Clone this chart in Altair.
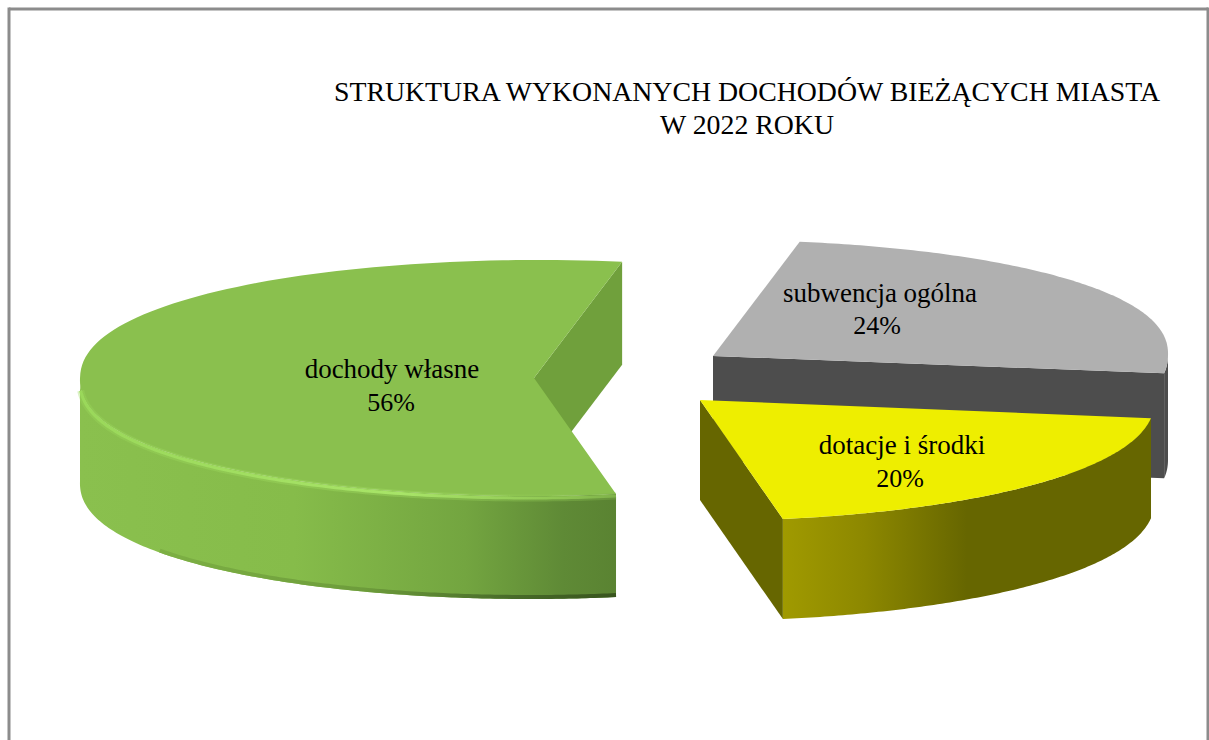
import math
import altair as alt
import pandas as pd

# Budget structure: share of current income by source
categories = ["dochody własne", "subwencja ogólna", "dotacje i środki"]
shares = [56, 24, 20]
title_lines = "STRUKTURA WYKONANYCH DOCHODÓW BIEŻĄCYCH MIASTA\nW 2022 ROKU"

W, H = 1209, 740
SKEW = 0.033   # slight shear of the tilted disc
ROUND = 0.9    # below 1 the disc outline bulges a little past a true ellipse

# Each exploded slice: hub position, ellipse radii, wall height and start angle
slices = {
    "dochody własne": dict(cx=534, cy=378, a=454, b=118, depth=103, start=79.3),
    "subwencja ogólna": dict(cx=713, cy=356, a=455, b=116, depth=105, start=79.5),
    "dotacje i środki": dict(cx=700, cy=400, a=455, b=121, depth=100, start=-7.0),
}
share_of = dict(zip(categories, shares))


def rim(s, deg, drop=0.0):
    t = math.radians(deg)
    sin_t = math.copysign(abs(math.sin(t)) ** ROUND, math.sin(t))
    return (
        s["cx"] + s["a"] * math.cos(t) + SKEW * s["b"] * sin_t,
        s["cy"] - s["b"] * sin_t + drop,
    )


def sweep(name):
    return 3.6 * share_of[name]


def arc_points(s, t0, t1, drop=0.0, steps=120):
    return [rim(s, t0 + (t1 - t0) * i / steps, drop) for i in range(steps + 1)]


xs = alt.Scale(domain=[0, W])
ys = alt.Scale(domain=[H, 0])


def shape(points, fill):
    df = pd.DataFrame(points, columns=["x", "y"]).assign(i=lambda d: range(len(d)))
    return alt.Chart(df).mark_line(fill=fill, strokeWidth=0, strokeOpacity=0, interpolate="linear-closed").encode(
        x=alt.X("x:Q", scale=xs, axis=None),
        y=alt.Y("y:Q", scale=ys, axis=None),
        order="i:Q",
    )


def stroke_path(points, stroke, width, opacity=1.0):
    df = pd.DataFrame(points, columns=["x", "y"]).assign(i=lambda d: range(len(d)))
    return alt.Chart(df).mark_line(stroke=stroke, strokeWidth=width, strokeCap="butt", strokeOpacity=opacity).encode(
        x=alt.X("x:Q", scale=xs, axis=None),
        y=alt.Y("y:Q", scale=ys, axis=None),
        order="i:Q",
    )


def hgrad(stops):
    return alt.LinearGradient(
        gradient="linear", x1=0, x2=1, y1=0, y2=0,
        stops=[alt.GradientStop(offset=o, color=c) for o, c in stops],
    )


def cut_face(s, deg, fill):
    hub = (s["cx"], s["cy"])
    p = rim(s, deg)
    d = s["depth"]
    return shape([hub, p, (p[0], p[1] + d), (hub[0], hub[1] + d)], fill)


layers = []

# --- grey slice (furthest back) ---
n = "subwencja ogólna"
s = slices[n]
g0, g1 = s["start"], s["start"] - sweep(n)
layers.append(cut_face(s, g1, "#4d4d4d"))
layers.append(shape(arc_points(s, 0, g1) + arc_points(s, g1, 0, s["depth"]), "#4d4d4d"))
layers.append(shape([(s["cx"], s["cy"])] + arc_points(s, g0, g1), "#b0b0b0"))

# --- green slice ---
n = "dochody własne"
s = slices[n]
g0, g1 = s["start"], s["start"] + sweep(n)
layers.append(cut_face(s, g0, "#70a03c"))
layers.append(shape(
    arc_points(s, 180, g1) + arc_points(s, g1, 180, s["depth"]),
    hgrad([(0, "#8ac04e"), (0.4, "#86bc4a"), (0.72, "#73a540"), (0.9, "#5f8a36"), (1, "#5a8332")]),
))
layers.append(stroke_path(
    arc_points(s, 215, g1, s["depth"] - 2),
    hgrad([(0, "#7db044"), (0.45, "#6d9c3b"), (0.75, "#4a6e2a"), (1, "#38541e")]),
    4,
))
layers.append(shape([(s["cx"], s["cy"])] + arc_points(s, g0, g1), "#8ac04e"))
layers.append(stroke_path(
    arc_points(s, 184, g1, 2),
    hgrad([(0, "#9ad85a"), (0.6, "#a4e064"), (0.9, "#8fc653"), (1, "#7fb24a")]),
    7, 0.35,
))
layers.append(stroke_path(
    arc_points(s, 184, g1, 2),
    hgrad([(0, "#9ad85a"), (0.6, "#a8e468"), (0.9, "#8fc653"), (1, "#7fb24a")]),
    3,
))

# --- yellow slice ---
n = "dotacje i środki"
s = slices[n]
g0, g1 = s["start"], s["start"] - sweep(n)
layers.append(cut_face(s, g1, "#666600"))
layers.append(shape(
    arc_points(s, g1, g0) + arc_points(s, g0, g1, s["depth"]),
    hgrad([(0, "#a09a00"), (0.22, "#8d8800"), (0.5, "#666600"), (1, "#666600")]),
))
layers.append(shape([(s["cx"], s["cy"])] + arc_points(s, g0, g1), "#eeee00"))

# --- frame ---
frame_color = "#8c8c8c"
frame = pd.DataFrame({"x": [9, 9, 1208], "x2": [9, 1208, 1208], "y": [7.5, 9, 7.5], "y2": [740, 9, 740]})
layers.append(alt.Chart(frame).mark_rule(color=frame_color, strokeWidth=3).encode(
    x=alt.X("x:Q", scale=xs, axis=None), x2="x2:Q",
    y=alt.Y("y:Q", scale=ys, axis=None), y2="y2:Q",
))

# --- labels: category name with its percentage underneath ---
name_anchor = {
    "dochody własne": (392, 378),
    "subwencja ogólna": (880, 302),
    "dotacje i środki": (902, 454),
}
pct_anchor = {
    "dochody własne": (391, 411),
    "subwencja ogólna": (877, 334),
    "dotacje i środki": (900, 487),
}
labels = pd.DataFrame([
    {"x": name_anchor[c][0], "y": name_anchor[c][1], "text": c,
     "px": pct_anchor[c][0], "py": pct_anchor[c][1], "pct": f"{v}%"}
    for c, v in zip(categories, shares)
])
layers.append(alt.Chart(labels).mark_text(
    font="Liberation Serif", fontSize=27, color="#000000", align="center", baseline="alphabetic",
).encode(
    x=alt.X("x:Q", scale=xs, axis=None),
    y=alt.Y("y:Q", scale=ys, axis=None),
    text="text:N",
))
layers.append(alt.Chart(labels).mark_text(
    font="Liberation Serif", fontSize=26, color="#000000", align="center", baseline="alphabetic",
).encode(
    x=alt.X("px:Q", scale=xs, axis=None),
    y=alt.Y("py:Q", scale=ys, axis=None),
    text="pct:N",
))

title_df = pd.DataFrame([{"x": 747, "y": 101, "text": title_lines}])
layers.append(alt.Chart(title_df).mark_text(
    font="Liberation Serif", fontSize=27.8, color="#000000", lineBreak="\n",
    lineHeight=33, align="center", baseline="alphabetic",
).encode(
    x=alt.X("x:Q", scale=xs, axis=None),
    y=alt.Y("y:Q", scale=ys, axis=None),
    text="text:N",
))

chart = alt.layer(*layers).properties(
    width=W, height=H, padding=0, autosize=alt.AutoSizeParams(type="none"),
    background="#ffffff",
).configure_view(stroke=None)

chart.save("out.html", embed_options={"renderer": "svg", "actions": False})
